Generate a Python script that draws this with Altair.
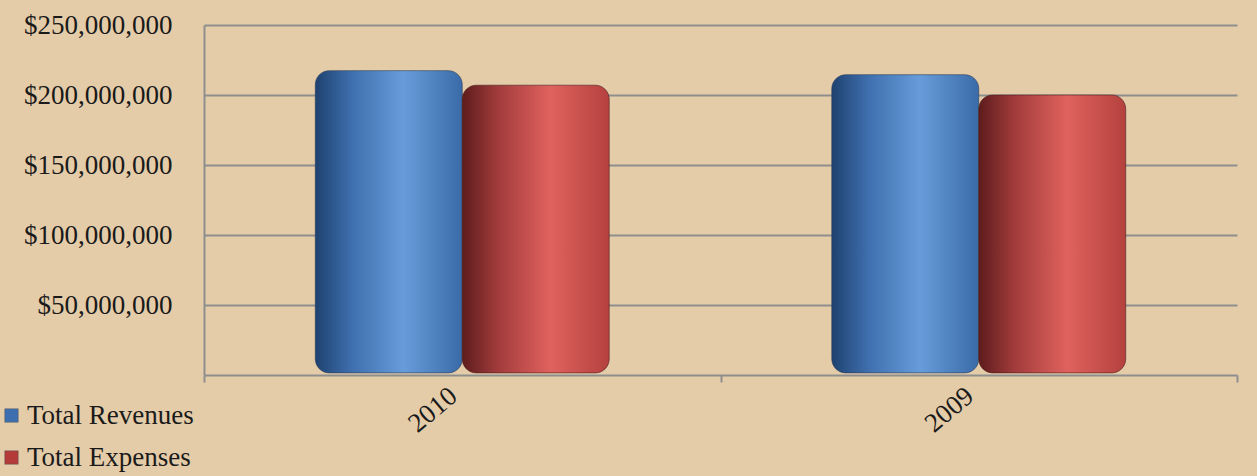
import altair as alt
import pandas as pd

years = ["2010", "2009"]
series = ["Total Revenues", "Total Expenses"]
revenues = [217400000, 214500000]
expenses = [207000000, 200000000]

rows = []
for i, y in enumerate(years):
    rows.append({"year": y, "series": series[0], "value": revenues[i]})
    rows.append({"year": y, "series": series[1], "value": expenses[i]})
df = pd.DataFrame(rows)

FONT = "Liberation Serif"
BG = "#E5CCA9"
GRID = "#8E8E8E"
FS = 27

x_enc = alt.X("year:N", sort=years, title=None,
              scale=alt.Scale(paddingInner=0, paddingOuter=0),
              axis=alt.Axis(labelAngle=-40, labelAlign="right", labelBaseline="bottom",
                            labelPadding=21, labelFont=FONT, labelFontSize=FS,
                            labelColor="#1a1a1a", tickBand="extent", ticks=True,
                            tickColor=GRID, tickSize=7, tickWidth=2,
                            domain=False, grid=False))
xoff = alt.XOffset("series:N", sort=series,
                   scale=alt.Scale(paddingInner=0, paddingOuter=0.757))
y_enc = alt.Y("value:Q", title=None,
              scale=alt.Scale(domain=[0, 250000000], nice=False),
              axis=alt.Axis(values=[0, 50000000, 100000000, 150000000, 200000000, 250000000],
                            labelExpr="datum.value == 0 ? '' : '$' + format(datum.value, ',.0f')",
                            labelFont=FONT, labelFontSize=FS, labelColor="#1a1a1a",
                            labelPadding=32, ticks=False, labelLimit=300,
                            domain=True, domainColor=GRID, domainWidth=2,
                            grid=True, gridColor=GRID, gridWidth=2))

base = alt.Chart(df)

legend_layer = base.mark_bar(opacity=0).encode(
    x=x_enc, xOffset=xoff, y=y_enc,
    color=alt.Color("series:N", sort=series,
                    scale=alt.Scale(domain=series, range=["#3D6FB0", "#B53A3A"]),
                    legend=alt.Legend(title=None, orient="none", legendX=-206, legendY=377,
                                      symbolType="square", symbolSize=180, symbolOpacity=1,
                                      symbolStrokeColor="#555555", symbolStrokeWidth=0.5,
                                      labelFont=FONT, labelFontSize=FS, labelColor="#1a1a1a",
                                      labelLimit=400,
                                      rowPadding=14, labelOffset=2, direction="vertical"))
)

blue_grad = alt.Gradient(gradient="linear", x1=0, x2=1, y1=0, y2=0, stops=[
    alt.GradientStop(offset=0, color="#1E4270"),
    alt.GradientStop(offset=0.25, color="#3F6FAE"),
    alt.GradientStop(offset=0.6, color="#679CDA"),
    alt.GradientStop(offset=1, color="#3A6BA8"),
])
red_grad = alt.Gradient(gradient="linear", x1=0, x2=1, y1=0, y2=0, stops=[
    alt.GradientStop(offset=0, color="#5E1C1C"),
    alt.GradientStop(offset=0.25, color="#A33C3C"),
    alt.GradientStop(offset=0.6, color="#E0625E"),
    alt.GradientStop(offset=1, color="#B4413E"),
])

rev_layer = base.transform_filter(alt.datum.series == series[0]).mark_bar(
    fill=blue_grad, cornerRadius=14, stroke="#2A3E5A", strokeWidth=1, strokeOpacity=0.6
).encode(x=x_enc, xOffset=xoff, y=y_enc, y2=alt.Y2(datum=1500000))

exp_layer = base.transform_filter(alt.datum.series == series[1]).mark_bar(
    fill=red_grad, cornerRadius=14, stroke="#4A1E1E", strokeWidth=1, strokeOpacity=0.6
).encode(x=x_enc, xOffset=xoff, y=y_enc, y2=alt.Y2(datum=1500000))

chart = alt.layer(legend_layer, rev_layer, exp_layer).properties(
    width=1033, height=350,
    background=BG,
    padding={"left": 204, "top": 25, "right": 20, "bottom": 101},
    autosize=alt.AutoSizeParams(type="none"),
).configure_view(stroke=None)

chart.save("out.html", embed_options={"renderer": "svg", "actions": False})
